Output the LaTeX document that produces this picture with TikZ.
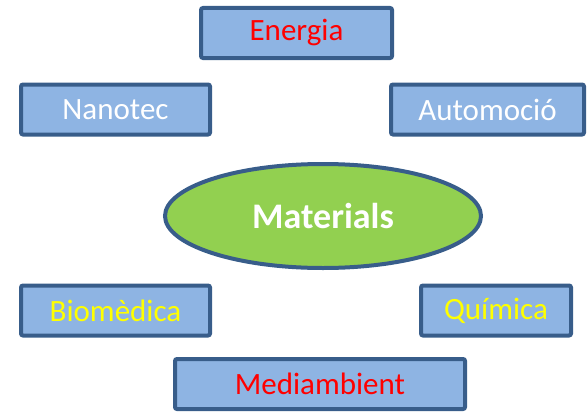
\documentclass[tikz,border=0pt]{standalone}
\usepackage{fontspec}
\setmainfont{Carlito}
\usepackage{tikz}
\usetikzlibrary{positioning,shapes}
\definecolor{BoxBlue}{RGB}{142,180,227}
\definecolor{EdgeBlue}{RGB}{56,93,138}
\definecolor{LeafGreen}{RGB}{146,208,80}
\definecolor{PureYellow}{RGB}{255,255,0}

\begin{document}
\begin{tikzpicture}[x=1pt, y=-1pt,
    area/.style={rectangle, draw=EdgeBlue, fill=BoxBlue, line width=4pt,
                 rounded corners=2pt, inner sep=0pt, minimum height=50pt,
                 font=\fontsize{31}{34}\selectfont},
    core/.style={ellipse, draw=EdgeBlue, fill=LeafGreen, line width=4pt,
                 inner sep=0pt, minimum width=316pt, minimum height=104pt,
                 text=white, font=\fontsize{36}{40}\selectfont\bfseries}
]
    \useasboundingbox (0,0) rectangle (588,412);
    \node[area, minimum width=191pt, text=red] (ene) at (296.5,33) {Energia};
    \node[area, minimum width=189pt, text=white] (nano) at (115.5,109.5) {Nanotec};
    \node[area, minimum width=193pt, text=white] (auto) at (487.5,109.5) {Automoció};
    \node[core] (mat) at (323,216) {Materials};
    \node[area, minimum width=189pt, text=PureYellow] (bio) at (115.5,310.5) {Biomèdica};
    \node[area, minimum width=150pt, text=PureYellow] (qui) at (496,310.5) {Química};
    \node[area, minimum width=290pt, text=red] (med) at (320,384) {Mediambient};
\end{tikzpicture}
\end{document}
